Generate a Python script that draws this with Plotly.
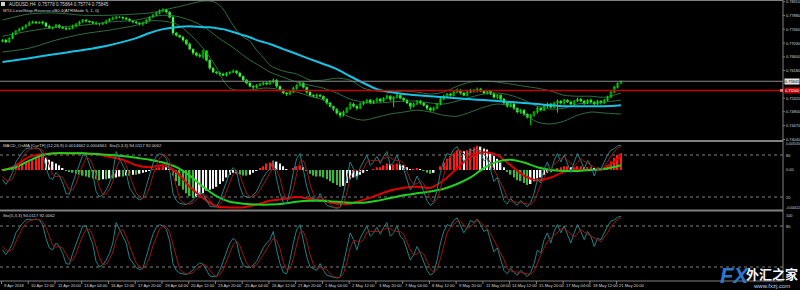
import plotly.graph_objects as go

# ------------------------------------------------------------------ data
symbol_line = "AUDUSD,H4  0.75778 0.75864 0.75774 0.75845"
ind_line = "MT4-LevelStop-Reverse-vB0.4(ATRMode 5, 1, 0)"
macd_line_title = "MACD_OsMA [CurTF] (12,26,9) 0.0014662 0.0004661  Sto(5,3,3) 94.0117 92.0062"
sto_title = "Sto(5,3,3) 94.0117 92.0062"

x_labels = ["9 Apr 2018", "10 Apr 12:00", "11 Apr 20:00", "13 Apr 04:00", "16 Apr 12:00",
            "17 Apr 20:00", "19 Apr 04:00", "20 Apr 12:00", "23 Apr 20:00", "25 Apr 04:00",
            "26 Apr 12:00", "27 Apr 20:00", "1 May 04:00", "2 May 12:00", "3 May 20:00",
            "7 May 04:00", "8 May 12:00", "9 May 20:00", "11 May 04:00", "14 May 12:00",
            "15 May 20:00", "17 May 04:00", "18 May 12:00", "21 May 20:00"]
x_label_bars = [0, 8, 16, 24, 32, 40, 48, 56, 64, 72, 80, 88, 96, 104, 112, 120,
                128, 136, 144, 152, 160, 168, 176, 184]

price_ticks = [0.78310, 0.77880, 0.77460, 0.77030, 0.76600, 0.76180,
               0.75320, 0.74900, 0.74470, 0.74040]
bid_price = 0.75845
bid_text = "0.75845"
hline_price = 0.75560
hline_text = "0.75560"

open0 = 0.7709
close = [
    0.7712, 0.7706, 0.7718, 0.7731, 0.7740, 0.7746, 0.7752, 0.7758, 0.7765, 0.7768,
    0.7765, 0.7768, 0.7765, 0.7755, 0.7749, 0.7752, 0.7758, 0.7752, 0.7749, 0.7746,
    0.7749, 0.7755, 0.7762, 0.7768, 0.7774, 0.7771, 0.7768, 0.7765, 0.7762, 0.7762,
    0.7765, 0.7771, 0.7777, 0.7780, 0.7783, 0.7783, 0.7780, 0.7777, 0.7771, 0.7768,
    0.7765, 0.7762, 0.7765, 0.7774, 0.7783, 0.7789, 0.7796, 0.7802, 0.7805, 0.7799,
    0.7783, 0.7734, 0.7727, 0.7721, 0.7712, 0.7700, 0.7684, 0.7672, 0.7665, 0.7662,
    0.7678, 0.7650, 0.7625, 0.7613, 0.7610, 0.7607, 0.7603, 0.7610, 0.7613, 0.7616,
    0.7610, 0.7600, 0.7588, 0.7579, 0.7569, 0.7566, 0.7572, 0.7576, 0.7579, 0.7576,
    0.7582, 0.7588, 0.7569, 0.7557, 0.7548, 0.7545, 0.7551, 0.7563, 0.7572, 0.7579,
    0.7566, 0.7551, 0.7541, 0.7538, 0.7541, 0.7538, 0.7529, 0.7517, 0.7507, 0.7498,
    0.7486, 0.7479, 0.7489, 0.7501, 0.7514, 0.7507, 0.7501, 0.7514, 0.7520, 0.7526,
    0.7517, 0.7523, 0.7529, 0.7523, 0.7532, 0.7538, 0.7529, 0.7535, 0.7541, 0.7532,
    0.7526, 0.7517, 0.7507, 0.7514, 0.7523, 0.7517, 0.7510, 0.7501, 0.7495, 0.7501,
    0.7514, 0.7529, 0.7538, 0.7545, 0.7541, 0.7551, 0.7557, 0.7548, 0.7541, 0.7551,
    0.7557, 0.7554, 0.7560, 0.7554, 0.7548, 0.7554, 0.7545, 0.7535, 0.7541, 0.7529,
    0.7517, 0.7507, 0.7514, 0.7501, 0.7489, 0.7495, 0.7483, 0.7473, 0.7479, 0.7489,
    0.7501, 0.7495, 0.7507, 0.7514, 0.7504, 0.7517, 0.7523, 0.7517, 0.7526, 0.7520,
    0.7514, 0.7523, 0.7529, 0.7523, 0.7517, 0.7526, 0.7520, 0.7514, 0.7523, 0.7517,
    0.7526, 0.7535, 0.7551, 0.7566, 0.7578, 0.7585]
# wick lengths in pips above / below the candle body
wick_hi = [
    3, 4, 2, 5, 3, 4, 2, 3, 5, 4,
    3, 2, 4, 3, 5, 2, 4, 3, 2, 4,
    3, 5, 2, 4, 3, 4, 2, 3, 5, 3,
    2, 4, 3, 5, 4, 3, 2, 4, 3, 2,
    4, 3, 5, 3, 2, 4, 3, 5, 6, 4,
    3, 5, 3, 2, 4, 3, 5, 2, 4, 6,
    5, 3, 2, 4, 3, 5, 4, 3, 2, 5,
    3, 4, 2, 3, 5, 4, 3, 2, 4, 3,
    6, 5, 3, 2, 4, 3, 5, 4, 3, 5,
    3, 2, 4, 3, 5, 4, 2, 3, 4, 2,
    3, 4, 5, 3, 6, 4, 3, 5, 4, 3,
    4, 3, 5, 4, 3, 5, 4, 3, 5, 4,
    3, 4, 2, 5, 3, 4, 3, 2, 4, 5,
    3, 4, 5, 3, 4, 6, 5, 3, 4, 5,
    4, 3, 5, 4, 3, 4, 3, 5, 4, 3,
    4, 3, 5, 3, 2, 4, 3, 2, 4, 3,
    5, 3, 4, 5, 3, 4, 5, 3, 4, 3,
    4, 3, 5, 3, 4, 3, 5, 3, 4, 3,
    4, 5, 3, 4, 3, 1]
wick_lo = [
    4, 3, 2, 3, 4, 2, 3, 4, 3, 2,
    4, 3, 5, 3, 2, 4, 3, 5, 3, 4,
    2, 3, 4, 3, 2, 5, 3, 4, 3, 5,
    3, 4, 2, 3, 4, 3, 5, 3, 2, 4,
    3, 5, 6, 3, 4, 2, 3, 4, 3, 5,
    4, 6, 4, 3, 5, 4, 3, 6, 4, 5,
    8, 4, 5, 3, 4, 6, 3, 4, 5, 3,
    4, 3, 5, 4, 3, 6, 4, 3, 5, 4,
    3, 4, 5, 4, 3, 6, 4, 3, 5, 4,
    4, 5, 3, 4, 6, 3, 4, 5, 4, 6,
    5, 8, 4, 3, 5, 4, 6, 3, 4, 5,
    4, 3, 5, 4, 3, 4, 6, 25, 4, 3,
    5, 4, 10, 4, 3, 5, 4, 6, 5, 4,
    3, 4, 3, 5, 4, 3, 4, 5, 3, 4,
    3, 5, 4, 3, 4, 5, 3, 4, 6, 4,
    5, 4, 3, 6, 4, 5, 6, 4, 25, 4,
    5, 4, 3, 6, 4, 3, 30, 4, 5, 3,
    4, 5, 3, 4, 6, 3, 4, 5, 3, 4,
    3, 4, 3, 3, 4, 1]

# main-window indicators, read at these bars
ind_bars = [0, 8, 16, 24, 32, 40, 44, 48, 52, 56, 60, 62, 64, 66, 68, 70, 72, 74, 76, 78,
            80, 84, 88, 92, 96, 100, 104, 108, 112, 116, 120, 124, 128, 132, 136, 140,
            144, 148, 152, 156, 160, 164, 168, 172, 176, 180, 185]
level_stop = [0.7644, 0.7656, 0.7669, 0.7681, 0.7696, 0.7718, 0.7734, 0.7746, 0.7752, 0.7755,
              0.7752, 0.7752, 0.7749, 0.7746, 0.7740, 0.7734, 0.7727, 0.7721, 0.7712, 0.7706,
              0.7700, 0.7684, 0.7669, 0.7653, 0.7638, 0.7622, 0.7600, 0.7579, 0.7560, 0.7551,
              0.7545, 0.7541, 0.7538, 0.7535, 0.7532, 0.7529, 0.7526, 0.7523, 0.7520, 0.7517,
              0.7514, 0.7510, 0.7507, 0.7507, 0.7507, 0.7507, 0.7510]
bb_upper = [0.7774, 0.7793, 0.7796, 0.7789, 0.7789, 0.7793, 0.7796, 0.7805, 0.7814, 0.7824,
            0.7833, 0.7833, 0.7827, 0.7808, 0.7774, 0.7743, 0.7721, 0.7709, 0.7681, 0.7659,
            0.7634, 0.7616, 0.7607, 0.7588, 0.7588, 0.7594, 0.7588, 0.7563, 0.7554, 0.7551,
            0.7554, 0.7551, 0.7545, 0.7551, 0.7569, 0.7582, 0.7585, 0.7582, 0.7576, 0.7569,
            0.7563, 0.7554, 0.7541, 0.7538, 0.7538, 0.7535, 0.7548]
bb_mid = [0.7724, 0.7740, 0.7752, 0.7758, 0.7768, 0.7774, 0.7783, 0.7789, 0.7786, 0.7774,
          0.7755, 0.7740, 0.7724, 0.7709, 0.7696, 0.7681, 0.7665, 0.7650, 0.7638, 0.7625,
          0.7613, 0.7597, 0.7582, 0.7572, 0.7563, 0.7548, 0.7529, 0.7520, 0.7517, 0.7520,
          0.7523, 0.7523, 0.7517, 0.7514, 0.7523, 0.7535, 0.7545, 0.7548, 0.7541, 0.7526,
          0.7507, 0.7498, 0.7501, 0.7514, 0.7517, 0.7520, 0.7526]
bb_lower = [0.7675, 0.7687, 0.7712, 0.7731, 0.7743, 0.7758, 0.7771, 0.7771, 0.7762, 0.7731,
            0.7687, 0.7659, 0.7628, 0.7588, 0.7563, 0.7557, 0.7557, 0.7557, 0.7560, 0.7563,
            0.7563, 0.7557, 0.7551, 0.7538, 0.7526, 0.7495, 0.7473, 0.7464, 0.7473, 0.7483,
            0.7489, 0.7495, 0.7489, 0.7479, 0.7476, 0.7489, 0.7504, 0.7514, 0.7507, 0.7483,
            0.7458, 0.7452, 0.7461, 0.7479, 0.7489, 0.7486, 0.7483]

# MACD_OsMA window
osma = [
    0.0001, 0.0000, 0.0001, 0.0002, 0.0003, 0.0005, 0.0007, 0.0009, 0.0011, 0.0012,
    0.0013, 0.0014, 0.0015, 0.0013, 0.0011, 0.0009, 0.0007, 0.0005, 0.0002, -0.0001,
    -0.0002, -0.0003, -0.0004, -0.0005, -0.0006, -0.0007, -0.0008, -0.0009, -0.0010, -0.0011,
    -0.0010, -0.0010, -0.0009, -0.0009, -0.0008, -0.0007, -0.0007, -0.0006, -0.0006, -0.0005,
    -0.0005, -0.0004, -0.0003, -0.0002, -0.0001, 0.0001, 0.0002, 0.0003, 0.0004, 0.0003,
    0.0001, -0.0006, -0.0012, -0.0017, -0.0021, -0.0025, -0.0028, -0.0030, -0.0029, -0.0027,
    -0.0025, -0.0022, -0.0021, -0.0020, -0.0018, -0.0015, -0.0012, -0.0008, -0.0005, -0.0003,
    -0.0004, -0.0005, -0.0006, -0.0006, -0.0005, -0.0003, -0.0001, 0.0002, 0.0004, 0.0007,
    0.0008, 0.0010, 0.0009, 0.0007, 0.0004, 0.0001, 0.0000, 0.0002, 0.0004, 0.0005,
    0.0003, -0.0001, -0.0004, -0.0006, -0.0007, -0.0007, -0.0008, -0.0010, -0.0012, -0.0014,
    -0.0016, -0.0018, -0.0017, -0.0014, -0.0010, -0.0008, -0.0007, -0.0005, -0.0003, -0.0001,
    0.0000, 0.0001, 0.0003, 0.0003, 0.0005, 0.0007, 0.0006, 0.0006, 0.0007, 0.0006,
    0.0005, 0.0003, 0.0001, 0.0001, 0.0002, 0.0001, -0.0001, -0.0003, -0.0004, -0.0003,
    0.0000, 0.0004, 0.0008, 0.0012, 0.0015, 0.0018, 0.0021, 0.0021, 0.0020, 0.0021,
    0.0023, 0.0024, 0.0026, 0.0025, 0.0023, 0.0022, 0.0019, 0.0015, 0.0012, 0.0008,
    0.0003, -0.0002, -0.0005, -0.0008, -0.0011, -0.0012, -0.0014, -0.0016, -0.0015, -0.0012,
    -0.0009, -0.0008, -0.0005, -0.0003, -0.0002, 0.0000, 0.0002, 0.0003, 0.0004, 0.0004,
    0.0003, 0.0003, 0.0004, 0.0004, 0.0003, 0.0003, 0.0003, 0.0002, 0.0002, 0.0002,
    0.0003, 0.0005, 0.0009, 0.0013, 0.0016, 0.0018]
macd_bars = [0, 4, 8, 12, 16, 20, 24, 28, 32, 36, 40, 44, 48, 52, 56, 60, 64, 68, 72, 76,
             80, 84, 88, 92, 96, 100, 104, 108, 112, 116, 120, 124, 128, 132, 136, 140,
             144, 148, 152, 156, 160, 164, 168, 172, 176, 180, 185]
macd_red = [-0.0001, 0.0005, 0.0014, 0.0017, 0.0018, 0.0018, 0.0018, 0.0017, 0.0014, 0.0011,
            0.0005, 0.0003, 0.0005, -0.0002, -0.0018, -0.0030, -0.0039, -0.0040, -0.0040, -0.0037,
            -0.0033, -0.0031, -0.0029, -0.0031, -0.0033, -0.0036, -0.0036, -0.0032, -0.0027, -0.0022,
            -0.0019, -0.0018, -0.0019, -0.0011, 0.0002, 0.0014, 0.0019, 0.0016, 0.0005, -0.0006,
            -0.0011, -0.0008, -0.0002, 0.0000, 0.0000, 0.0002, 0.0015]
macd_green = [0.0000, 0.0003, 0.0010, 0.0016, 0.0018, 0.0018, 0.0018, 0.0017, 0.0016, 0.0015,
              0.0013, 0.0011, 0.0008, 0.0003, -0.0006, -0.0018, -0.0028, -0.0034, -0.0036, -0.0037,
              -0.0037, -0.0036, -0.0034, -0.0033, -0.0033, -0.0034, -0.0035, -0.0035, -0.0033, -0.0030,
              -0.0027, -0.0025, -0.0023, -0.0020, -0.0015, -0.0008, 0.0002, 0.0009, 0.0011, 0.0008,
              0.0003, 0.0000, -0.0001, -0.0001, 0.0000, 0.0001, 0.0005]
macd_scale_top = "0.0031050"
macd_scale_bottom = "-0.0044120"

# Stochastic (5,3,3)
stoch_k = [
    45, 38, 45, 55, 70, 78, 84, 89, 90, 89,
    90, 89, 82, 62, 48, 45, 55, 50, 40, 25,
    24, 40, 53, 65, 80, 80, 65, 53, 28, 20,
    23, 30, 40, 55, 85, 75, 65, 55, 33, 26,
    19, 16, 18, 35, 50, 68, 78, 82, 80, 75,
    58, 25, 15, 11, 10, 9, 12, 16, 22, 26,
    24, 15, 7, 6, 6, 15, 28, 42, 55, 62,
    57, 35, 22, 20, 19, 23, 28, 38, 48, 55,
    60, 72, 45, 25, 12, 10, 30, 55, 75, 82,
    60, 35, 20, 18, 15, 25, 15, 8, 6, 5,
    4, 5, 25, 48, 70, 60, 45, 62, 72, 80,
    65, 70, 78, 68, 78, 85, 65, 70, 80, 65,
    60, 45, 30, 38, 50, 40, 28, 15, 8, 12,
    30, 55, 72, 82, 80, 88, 92, 80, 70, 78,
    88, 85, 90, 82, 72, 75, 60, 42, 48, 30,
    15, 10, 18, 12, 8, 15, 10, 6, 12, 25,
    45, 40, 60, 70, 55, 72, 82, 70, 80, 68,
    55, 70, 82, 72, 60, 72, 65, 50, 62, 60,
    70, 80, 87, 89, 93, 94]
stoch_d = [
    50, 44, 43, 46, 57, 68, 77, 84, 88, 89,
    90, 89, 87, 78, 64, 52, 49, 50, 48, 38,
    30, 30, 39, 53, 66, 75, 75, 66, 49, 34,
    24, 24, 31, 42, 60, 72, 75, 65, 51, 38,
    26, 20, 18, 23, 34, 51, 65, 76, 80, 79,
    71, 53, 33, 17, 12, 10, 10, 12, 17, 21,
    24, 22, 15, 9, 6, 9, 16, 28, 42, 53,
    58, 51, 38, 26, 20, 21, 23, 30, 38, 47,
    54, 62, 59, 47, 27, 16, 17, 32, 53, 71,
    72, 59, 38, 24, 18, 19, 18, 16, 10, 6,
    5, 5, 11, 26, 48, 59, 58, 56, 60, 71,
    72, 72, 71, 72, 75, 77, 76, 73, 72, 72,
    68, 57, 45, 38, 39, 43, 39, 28, 17, 12,
    17, 32, 52, 70, 78, 83, 87, 87, 81, 76,
    79, 84, 88, 86, 81, 76, 69, 59, 50, 40,
    31, 18, 14, 13, 13, 12, 11, 10, 9, 14,
    27, 37, 48, 57, 62, 66, 70, 75, 77, 73,
    68, 64, 69, 75, 71, 68, 66, 62, 59, 57,
    64, 70, 79, 85, 90, 92]
sto_levels = [80, 20]

# ------------------------------------------------------------------ geometry
W, H = 800, 290
PLOT_R = 783          # right edge of the chart area (px)
BAR_PX = 3.343        # pixels per bar
X0 = -2.5 / BAR_PX
X1 = X0 + PLOT_R / BAR_PX
MAIN = (1, 140)       # pixel rows of the panels (top, bottom)
MACD = (142, 209)
STO = (212, 280)
PX_PER_PRICE = 3227.0
MACD_PER_PX = 0.000107
MACD_ZERO_PX = 170


def dom(rows):
    return [1 - rows[1] / H, 1 - rows[0] / H]


main_top = 0.78310 + (1.7 - MAIN[0]) / PX_PER_PRICE
main_range = [main_top - (MAIN[1] - MAIN[0]) / PX_PER_PRICE, main_top]
macd_range = [-(MACD[1] - MACD_ZERO_PX) * MACD_PER_PX, (MACD_ZERO_PX - MACD[0]) * MACD_PER_PX]
m_sc = (197 - 155) / 60.0
macd_sto_range = [20 - (MACD[1] - 197) / m_sc, 80 + (155 - MACD[0]) / m_sc]
s_sc = (267 - 226) / 60.0
sto_range = [20 - (STO[1] - 267) / s_sc, 80 + (226 - STO[0]) / s_sc]

n = len(close)
bars = list(range(n))
opens = [open0] + close[:-1]
PIP = 0.0001
highs = [max(o, c) + h * PIP for o, c, h in zip(opens, close, wick_hi)]
lows = [min(o, c) - l * PIP for o, c, l in zip(opens, close, wick_lo)]

LIME = "#00e600"
fig = go.Figure()

# bands first (indicator lines sit under / around candles)
for ser in (bb_upper, bb_mid, bb_lower):
    fig.add_trace(go.Scatter(x=ind_bars, y=ser, mode="lines",
                             line=dict(color="#2f6e3f", width=1, shape="spline", smoothing=0.8),
                             xaxis="x", yaxis="y", hoverinfo="skip"))

# candles: wicks then bodies
wx, wy = [], []
for i in bars:
    wx += [i, i, None]
    wy += [lows[i], highs[i], None]
fig.add_trace(go.Scatter(x=wx, y=wy, mode="lines", line=dict(color=LIME, width=1),
                         xaxis="x", yaxis="y", hoverinfo="skip"))
body_base = [min(o, c) for o, c in zip(opens, close)]
body_h = [max(abs(c - o), 0.00003) for o, c in zip(opens, close)]
body_col = ["#000000" if c >= o else "#f4fff4" for o, c in zip(opens, close)]
fig.add_trace(go.Bar(x=bars, y=body_h, base=body_base, width=0.6,
                     marker=dict(color=body_col, line=dict(color=LIME, width=0.5)),
                     xaxis="x", yaxis="y", hoverinfo="skip"))

fig.add_trace(go.Scatter(x=ind_bars, y=level_stop, mode="lines",
                         line=dict(color="#17c2e4", width=2, shape="spline", smoothing=0.8),
                         xaxis="x", yaxis="y", hoverinfo="skip"))

# MACD window
hist_col = []
prev = 0.0
for v in osma:
    if v > 0 and v >= prev:
        hist_col.append("#ff1a1a")
    elif v < 0 and v <= prev:
        hist_col.append("#3fb43f")
    else:
        hist_col.append("#f2f2f2")
    prev = v
fig.add_trace(go.Bar(x=bars, y=osma, width=0.45, marker=dict(color=hist_col, line=dict(width=0)),
                     xaxis="x", yaxis="y2", hoverinfo="skip"))
fig.add_trace(go.Scatter(x=bars, y=stoch_k, mode="lines", line=dict(color="#1d8585", width=1),
                         xaxis="x", yaxis="y4", hoverinfo="skip"))
fig.add_trace(go.Scatter(x=bars, y=stoch_d, mode="lines", line=dict(color="#a01414", width=1),
                         xaxis="x", yaxis="y4", hoverinfo="skip"))
fig.add_trace(go.Scatter(x=macd_bars, y=macd_red, mode="lines",
                         line=dict(color="#e00000", width=2, shape="spline", smoothing=0.8),
                         xaxis="x", yaxis="y2", hoverinfo="skip"))
fig.add_trace(go.Scatter(x=macd_bars, y=macd_green, mode="lines",
                         line=dict(color="#1ed21e", width=2, shape="spline", smoothing=0.8),
                         xaxis="x", yaxis="y2", hoverinfo="skip"))

# Stochastic window
fig.add_trace(go.Scatter(x=bars, y=stoch_k, mode="lines", line=dict(color="#1d8585", width=1),
                         xaxis="x", yaxis="y3", hoverinfo="skip"))
fig.add_trace(go.Scatter(x=bars, y=stoch_d, mode="lines", line=dict(color="#a01414", width=1),
                         xaxis="x", yaxis="y3", hoverinfo="skip"))

# ------------------------------------------------------------------ shapes
GRAY = "#808080"
shapes = []


def pline(x0, y0, x1, y1, color=GRAY, width=1, dash=None):
    shapes.append(dict(type="line", xref="paper", yref="paper",
                       x0=x0 / W, x1=x1 / W, y0=1 - y0 / H, y1=1 - y1 / H,
                       line=dict(color=color, width=width, dash=dash), layer="above"))


pline(0, 0.5, PLOT_R, 0.5)
pline(0, 141, PLOT_R, 141, width=2)
pline(0, 210.5, PLOT_R, 210.5, width=2)
pline(0, 281, PLOT_R, 281)
pline(PLOT_R, 0, PLOT_R, 281)

for yref in ("y4", "y3"):
    for lv in sto_levels:
        shapes.append(dict(type="line", xref="paper", yref=yref, x0=0, x1=PLOT_R / W, y0=lv, y1=lv,
                           line=dict(color=GRAY, width=1, dash="dot"), layer="below"))

shapes.append(dict(type="line", xref="paper", yref="y", x0=0, x1=PLOT_R / W,
                   y0=bid_price, y1=bid_price, line=dict(color="#8a8a8a", width=1)))
shapes.append(dict(type="line", xref="paper", yref="y", x0=0, x1=PLOT_R / W,
                   y0=hline_price, y1=hline_price, line=dict(color="#c40000", width=1.5)))
shapes.append(dict(type="rect", xref="paper", yref="y", x0=780 / W, x1=783 / W,
                   y0=hline_price - 0.0004, y1=hline_price + 0.0004,
                   fillcolor="#ff8080", line=dict(width=0)))
shapes.append(dict(type="rect", xref="paper", yref="paper", x0=1 / W, x1=5 / W,
                   y0=1 - 6 / H, y1=1 - 2 / H, fillcolor="#d0d0d0", line=dict(width=0)))

for p in price_ticks:
    shapes.append(dict(type="line", xref="paper", yref="y", x0=PLOT_R / W, x1=(PLOT_R + 2) / W,
                       y0=p, y1=p, line=dict(color=GRAY, width=1)))
for b in x_label_bars:
    shapes.append(dict(type="line", xref="x", yref="paper", x0=b - 0.3, x1=b - 0.3,
                       y0=1 - 281 / H, y1=1 - 284 / H, line=dict(color=GRAY, width=1)))

# ------------------------------------------------------------------ text
FONT = "Liberation Sans, Arial, sans-serif"
TXT = "#d6d6d6"
anns = []


def ann(text, xpx, ypx, size=4.2, color=TXT, xanchor="left", bg=None, family=FONT, yref="paper", y=None):
    d = dict(text=text, x=xpx / W, xref="paper", xanchor=xanchor, yanchor="middle",
             showarrow=False, font=dict(size=size, color=color, family=family), borderpad=0)
    if yref == "paper":
        d.update(y=1 - ypx / H, yref="paper")
    else:
        d.update(y=y, yref=yref)
    if bg:
        d["bgcolor"] = bg
    anns.append(d)


ann(symbol_line, 8, 4.5, size=4.6)
ann(ind_line, 2, 10.5, size=4.4)
ann(macd_line_title, 2, 145.5, size=4.3)
ann(sto_title, 2, 215.5, size=4.3)

for p in price_ticks:
    ann("%.5f" % p, 785, 0, size=3.9, yref="y", y=p)
ann(bid_text, 784, 0, size=3.9, yref="y", y=bid_price, color="#000000", bg="#e6e6e6")
ann(hline_text, 784, 0, size=3.9, yref="y", y=hline_price, color="#ffffff", bg="#c40000")

ann(macd_scale_top, 785, 144, size=3.2)
ann("80", 785, 155, size=3.9)
ann("0.00", 785, 170, size=3.9)
ann("20", 785, 197, size=3.9)
ann(macd_scale_bottom, 784.5, 208, size=3.0)
ann("100", 785, 215, size=3.9)
ann("80", 785, 226, size=3.9)

for txt, b in zip(x_labels, x_label_bars):
    anns.append(dict(text=txt, x=b - 0.1, xref="x", y=1 - 285.5 / H, yref="paper",
                     xanchor="left", yanchor="middle", showarrow=False,
                     font=dict(size=4.1, color=TXT, family=FONT)))

# watermark
ann("<b><i>FX</i></b>", 734, 275, size=22, color="#2a78cc", xanchor="center",
    family="Liberation Sans, Arial, sans-serif")
ann("<b>外汇之家</b>", 772, 273, size=13, color="#eef3ff", xanchor="center",
    family="Noto Sans CJK SC")
ann("www.fxzj.com", 771, 286, size=6, color="#bcd4f4", xanchor="center",
    family="Liberation Sans, sans-serif")

# ------------------------------------------------------------------ layout
hidden = dict(visible=False, showgrid=False, zeroline=False, fixedrange=True)
fig.update_layout(
    width=W, height=H, margin=dict(l=0, r=0, t=0, b=0),
    paper_bgcolor="#000000", plot_bgcolor="#000000",
    showlegend=False, barmode="overlay",
    xaxis=dict(domain=[0, PLOT_R / W], range=[X0, X1], anchor="y3", **hidden),
    yaxis=dict(domain=dom(MAIN), range=main_range, anchor="x", **hidden),
    yaxis2=dict(domain=dom(MACD), range=macd_range, anchor="x", **hidden),
    yaxis3=dict(domain=dom(STO), range=sto_range, anchor="x", **hidden),
    yaxis4=dict(overlaying="y2", range=macd_sto_range, anchor="x", **hidden),
    shapes=shapes, annotations=anns,
)

fig.write_html("out.html")
